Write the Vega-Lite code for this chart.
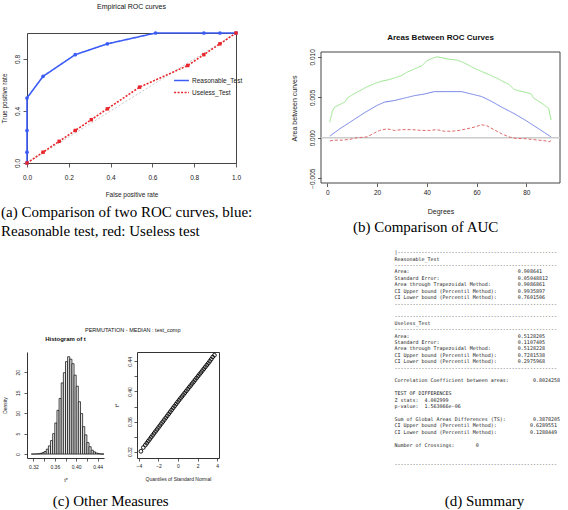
{
  "$schema": "https://vega.github.io/schema/vega-lite/v6.json",
  "padding": {"left": 1, "top": 2, "right": 0, "bottom": 0},
  "background": "white",
  "config": {
    "font": "Liberation Sans",
    "view": {"stroke": "#444", "strokeWidth": 1},
    "axis": {"grid": false, "domain": false, "labelFont": "Liberation Sans", "titleFont": "Liberation Sans", "titleFontWeight": "normal", "labelColor": "#222", "titleColor": "#222", "tickColor": "#333", "domainColor": "#333", "tickWidth": 0.8, "labelFlush": false, "labelOverlap": false},
    "title": {"font": "Liberation Sans", "color": "#111"}
  },
  "resolve": {"scale": {"color": "independent", "strokeDash": "independent", "shape": "independent"}, "legend": {"color": "independent", "strokeDash": "independent", "shape": "independent"}},
  "datasets": {
    "diag": [{"v": 0}, {"v": 1}],
    "roc": [
      {"test": "Reasonable_Test", "i": 0, "fpr": 0, "tpr": 0},
      {"test": "Reasonable_Test", "i": 1, "fpr": 0, "tpr": 0.0833},
      {"test": "Reasonable_Test", "i": 2, "fpr": 0, "tpr": 0.25},
      {"test": "Reasonable_Test", "i": 3, "fpr": 0, "tpr": 0.5},
      {"test": "Reasonable_Test", "i": 4, "fpr": 0.0769, "tpr": 0.6667},
      {"test": "Reasonable_Test", "i": 5, "fpr": 0.2308, "tpr": 0.8333},
      {"test": "Reasonable_Test", "i": 6, "fpr": 0.3846, "tpr": 0.9167},
      {"test": "Reasonable_Test", "i": 7, "fpr": 0.6154, "tpr": 1},
      {"test": "Reasonable_Test", "i": 8, "fpr": 0.8462, "tpr": 1},
      {"test": "Reasonable_Test", "i": 9, "fpr": 0.9231, "tpr": 1},
      {"test": "Reasonable_Test", "i": 10, "fpr": 1, "tpr": 1},
      {"test": "Useless_Test", "i": 0, "fpr": 0, "tpr": 0},
      {"test": "Useless_Test", "i": 1, "fpr": 0.0769, "tpr": 0.0833},
      {"test": "Useless_Test", "i": 2, "fpr": 0.1538, "tpr": 0.1667},
      {"test": "Useless_Test", "i": 3, "fpr": 0.2308, "tpr": 0.25},
      {"test": "Useless_Test", "i": 4, "fpr": 0.3077, "tpr": 0.3333},
      {"test": "Useless_Test", "i": 5, "fpr": 0.3846, "tpr": 0.4167},
      {"test": "Useless_Test", "i": 6, "fpr": 0.5385, "tpr": 0.5833},
      {"test": "Useless_Test", "i": 7, "fpr": 0.7692, "tpr": 0.75},
      {"test": "Useless_Test", "i": 8, "fpr": 0.8462, "tpr": 0.8333},
      {"test": "Useless_Test", "i": 9, "fpr": 0.9231, "tpr": 0.9167},
      {"test": "Useless_Test", "i": 10, "fpr": 1, "tpr": 1}
    ],
    "zero": [{"z": 0}],
    "abc": [
      {"series": "Upper", "deg": 1, "area": 0.0019}, {"series": "Upper", "deg": 2, "area": 0.0033}, {"series": "Upper", "deg": 3, "area": 0.0038}, {"series": "Upper", "deg": 5, "area": 0.0041}, {"series": "Upper", "deg": 7, "area": 0.0044}, {"series": "Upper", "deg": 8, "area": 0.0049}, {"series": "Upper", "deg": 10, "area": 0.0053}, {"series": "Upper", "deg": 13, "area": 0.0058}, {"series": "Upper", "deg": 16, "area": 0.0063}, {"series": "Upper", "deg": 19, "area": 0.0067}, {"series": "Upper", "deg": 22, "area": 0.007}, {"series": "Upper", "deg": 25, "area": 0.0072}, {"series": "Upper", "deg": 28, "area": 0.0075}, {"series": "Upper", "deg": 30, "area": 0.0077}, {"series": "Upper", "deg": 32, "area": 0.0081}, {"series": "Upper", "deg": 35, "area": 0.0085}, {"series": "Upper", "deg": 38, "area": 0.0089}, {"series": "Upper", "deg": 40, "area": 0.0095}, {"series": "Upper", "deg": 42, "area": 0.0098}, {"series": "Upper", "deg": 44, "area": 0.01}, {"series": "Upper", "deg": 46, "area": 0.0099}, {"series": "Upper", "deg": 49, "area": 0.0097}, {"series": "Upper", "deg": 52, "area": 0.0096}, {"series": "Upper", "deg": 54, "area": 0.0094}, {"series": "Upper", "deg": 56, "area": 0.0091}, {"series": "Upper", "deg": 59, "area": 0.0086}, {"series": "Upper", "deg": 62, "area": 0.0082}, {"series": "Upper", "deg": 65, "area": 0.0078}, {"series": "Upper", "deg": 68, "area": 0.0074}, {"series": "Upper", "deg": 71, "area": 0.0069}, {"series": "Upper", "deg": 73, "area": 0.0066}, {"series": "Upper", "deg": 75, "area": 0.006}, {"series": "Upper", "deg": 77, "area": 0.0058}, {"series": "Upper", "deg": 80, "area": 0.0056}, {"series": "Upper", "deg": 82, "area": 0.0054}, {"series": "Upper", "deg": 83, "area": 0.0049}, {"series": "Upper", "deg": 85, "area": 0.0045}, {"series": "Upper", "deg": 87, "area": 0.0041}, {"series": "Upper", "deg": 89, "area": 0.0036}, {"series": "Upper", "deg": 90, "area": 0.0022},
      {"series": "Difference", "deg": 1, "area": 0.0002}, {"series": "Difference", "deg": 5, "area": 0.0011}, {"series": "Difference", "deg": 10, "area": 0.0021}, {"series": "Difference", "deg": 15, "area": 0.0031}, {"series": "Difference", "deg": 20, "area": 0.004}, {"series": "Difference", "deg": 23, "area": 0.0044}, {"series": "Difference", "deg": 27, "area": 0.0046}, {"series": "Difference", "deg": 31, "area": 0.0049}, {"series": "Difference", "deg": 35, "area": 0.0052}, {"series": "Difference", "deg": 39, "area": 0.0054}, {"series": "Difference", "deg": 43, "area": 0.0057}, {"series": "Difference", "deg": 48, "area": 0.0057}, {"series": "Difference", "deg": 54, "area": 0.0057}, {"series": "Difference", "deg": 58, "area": 0.0054}, {"series": "Difference", "deg": 62, "area": 0.0051}, {"series": "Difference", "deg": 66, "area": 0.0045}, {"series": "Difference", "deg": 70, "area": 0.0038}, {"series": "Difference", "deg": 75, "area": 0.003}, {"series": "Difference", "deg": 80, "area": 0.0021}, {"series": "Difference", "deg": 85, "area": 0.0011}, {"series": "Difference", "deg": 90, "area": 0.0001},
      {"series": "Lower", "deg": 1, "area": -0.0004}, {"series": "Lower", "deg": 3, "area": -0.0003}, {"series": "Lower", "deg": 6, "area": -0.0003}, {"series": "Lower", "deg": 9, "area": -0.0002}, {"series": "Lower", "deg": 12, "area": 0}, {"series": "Lower", "deg": 16, "area": 0.0001}, {"series": "Lower", "deg": 19, "area": 0.0006}, {"series": "Lower", "deg": 21, "area": 0.0009}, {"series": "Lower", "deg": 24, "area": 0.0011}, {"series": "Lower", "deg": 27, "area": 0.0009}, {"series": "Lower", "deg": 30, "area": 0.001}, {"series": "Lower", "deg": 34, "area": 0.001}, {"series": "Lower", "deg": 38, "area": 0.0009}, {"series": "Lower", "deg": 41, "area": 0.0009}, {"series": "Lower", "deg": 44, "area": 0.001}, {"series": "Lower", "deg": 47, "area": 0.0008}, {"series": "Lower", "deg": 50, "area": 0.0008}, {"series": "Lower", "deg": 53, "area": 0.0009}, {"series": "Lower", "deg": 56, "area": 0.0011}, {"series": "Lower", "deg": 59, "area": 0.0013}, {"series": "Lower", "deg": 62, "area": 0.0016}, {"series": "Lower", "deg": 64, "area": 0.0015}, {"series": "Lower", "deg": 67, "area": 0.001}, {"series": "Lower", "deg": 70, "area": 0.0005}, {"series": "Lower", "deg": 73, "area": 0.0001}, {"series": "Lower", "deg": 76, "area": -0.0001}, {"series": "Lower", "deg": 79, "area": -0.0001}, {"series": "Lower", "deg": 82, "area": -0.0002}, {"series": "Lower", "deg": 85, "area": -0.0003}, {"series": "Lower", "deg": 88, "area": -0.0004}, {"series": "Lower", "deg": 89.5, "area": -0.0005}, {"series": "Lower", "deg": 90, "area": -0.0002}
    ],
    "hist": [
      {"lo": 0.316, "hi": 0.32, "d": 0.01}, {"lo": 0.32, "hi": 0.324, "d": 0.02}, {"lo": 0.324, "hi": 0.328, "d": 0.04}, {"lo": 0.328, "hi": 0.332, "d": 0.08}, {"lo": 0.332, "hi": 0.336, "d": 0.18}, {"lo": 0.336, "hi": 0.34, "d": 0.35}, {"lo": 0.34, "hi": 0.344, "d": 0.62}, {"lo": 0.344, "hi": 0.348, "d": 1.2}, {"lo": 0.348, "hi": 0.352, "d": 2.0}, {"lo": 0.352, "hi": 0.356, "d": 3.3}, {"lo": 0.356, "hi": 0.36, "d": 5.0}, {"lo": 0.36, "hi": 0.364, "d": 7.6}, {"lo": 0.364, "hi": 0.368, "d": 10.7}, {"lo": 0.368, "hi": 0.372, "d": 13.6}, {"lo": 0.372, "hi": 0.376, "d": 17.4}, {"lo": 0.376, "hi": 0.38, "d": 19.9}, {"lo": 0.38, "hi": 0.384, "d": 22.6}, {"lo": 0.384, "hi": 0.388, "d": 23.8}, {"lo": 0.388, "hi": 0.392, "d": 23.2}, {"lo": 0.392, "hi": 0.396, "d": 22.1}, {"lo": 0.396, "hi": 0.4, "d": 19.3}, {"lo": 0.4, "hi": 0.404, "d": 16.6}, {"lo": 0.404, "hi": 0.408, "d": 12.8}, {"lo": 0.408, "hi": 0.412, "d": 9.9}, {"lo": 0.412, "hi": 0.416, "d": 6.7}, {"lo": 0.416, "hi": 0.42, "d": 4.7}, {"lo": 0.42, "hi": 0.424, "d": 2.8}, {"lo": 0.424, "hi": 0.428, "d": 1.8}, {"lo": 0.428, "hi": 0.432, "d": 0.95}, {"lo": 0.432, "hi": 0.436, "d": 0.55}, {"lo": 0.436, "hi": 0.44, "d": 0.27}, {"lo": 0.44, "hi": 0.444, "d": 0.12}, {"lo": 0.444, "hi": 0.448, "d": 0.05}, {"lo": 0.448, "hi": 0.452, "d": 0.02}
    ],
    "qq": [
      {"q": -3.8, "t": 0.3205}, {"q": -3.55, "t": 0.3255}, {"q": -3.35, "t": 0.3287}, {"q": -3.2, "t": 0.3313}, {"q": -3.05, "t": 0.3339}, {"q": -2.9, "t": 0.3365}, {"q": -2.75, "t": 0.3391}, {"q": -2.6, "t": 0.3417}, {"q": -2.45, "t": 0.3443}, {"q": -2.3, "t": 0.3469}, {"q": -2.15, "t": 0.3495}, {"q": -2.0, "t": 0.3521}, {"q": -1.85, "t": 0.3547}, {"q": -1.7, "t": 0.3573}, {"q": -1.55, "t": 0.3599}, {"q": -1.4, "t": 0.3625}, {"q": -1.25, "t": 0.3651}, {"q": -1.1, "t": 0.3677}, {"q": -0.95, "t": 0.3703}, {"q": -0.8, "t": 0.3729}, {"q": -0.65, "t": 0.3755}, {"q": -0.5, "t": 0.3781}, {"q": -0.35, "t": 0.3806}, {"q": -0.2, "t": 0.3832}, {"q": -0.05, "t": 0.3858}, {"q": 0.1, "t": 0.3883}, {"q": 0.25, "t": 0.3908}, {"q": 0.4, "t": 0.3933}, {"q": 0.55, "t": 0.3957}, {"q": 0.7, "t": 0.3982}, {"q": 0.85, "t": 0.4006}, {"q": 1.0, "t": 0.4031}, {"q": 1.15, "t": 0.4056}, {"q": 1.3, "t": 0.408}, {"q": 1.45, "t": 0.4105}, {"q": 1.6, "t": 0.4129}, {"q": 1.75, "t": 0.4154}, {"q": 1.9, "t": 0.4179}, {"q": 2.05, "t": 0.4203}, {"q": 2.2, "t": 0.4228}, {"q": 2.35, "t": 0.4252}, {"q": 2.5, "t": 0.4277}, {"q": 2.65, "t": 0.4302}, {"q": 2.8, "t": 0.4326}, {"q": 2.95, "t": 0.4351}, {"q": 3.1, "t": 0.4375}, {"q": 3.25, "t": 0.4402}, {"q": 3.4, "t": 0.4428}, {"q": 3.55, "t": 0.4458}, {"q": 3.73, "t": 0.4482}
    ],
    "summary": [
      {"line": 0, "text": "|-----------------------------------------------------\u00a0\u200b"},
      {"line": 1, "text": "Reasonable_Test\u00a0\u00a0\u00a0\u00a0\u00a0\u00a0\u00a0\u00a0\u00a0\u00a0\u00a0\u00a0\u00a0\u00a0\u00a0\u00a0\u00a0\u00a0\u00a0\u00a0\u00a0\u00a0\u00a0\u00a0\u00a0\u00a0\u00a0\u00a0\u00a0\u00a0\u00a0\u00a0\u00a0\u00a0\u00a0\u00a0\u00a0\u00a0\u00a0\u00a0\u200b"},
      {"line": 2, "text": "------------------------------------------------------\u00a0\u200b"},
      {"line": 3, "text": "Area:\u00a0\u00a0\u00a0\u00a0\u00a0\u00a0\u00a0\u00a0\u00a0\u00a0\u00a0\u00a0\u00a0\u00a0\u00a0\u00a0\u00a0\u00a0\u00a0\u00a0\u00a0\u00a0\u00a0\u00a0\u00a0\u00a0\u00a0\u00a0\u00a0\u00a0\u00a0\u00a0\u00a0\u00a0\u00a0\u00a00.908641\u00a0\u00a0\u00a0\u00a0\u00a0\u00a0\u200b"},
      {"line": 4, "text": "Standard Error:\u00a0\u00a0\u00a0\u00a0\u00a0\u00a0\u00a0\u00a0\u00a0\u00a0\u00a0\u00a0\u00a0\u00a0\u00a0\u00a0\u00a0\u00a0\u00a0\u00a0\u00a0\u00a0\u00a0\u00a0\u00a0\u00a00.05048812\u00a0\u00a0\u00a0\u00a0\u200b"},
      {"line": 5, "text": "Area through Trapezoidal Method:\u00a0\u00a0\u00a0\u00a0\u00a0\u00a0\u00a0\u00a0\u00a00.9086861\u00a0\u00a0\u00a0\u00a0\u00a0\u200b"},
      {"line": 6, "text": "CI Upper bound (Percentil Method):\u00a0\u00a0\u00a0\u00a0\u00a0\u00a0\u00a00.9935897\u00a0\u00a0\u00a0\u00a0\u00a0\u200b"},
      {"line": 7, "text": "CI Lower bound (Percentil Method):\u00a0\u00a0\u00a0\u00a0\u00a0\u00a0\u00a00.7601506\u00a0\u00a0\u00a0\u00a0\u00a0\u200b"},
      {"line": 8, "text": "------------------------------------------------------\u00a0\u200b"},
      {"line": 10, "text": "------------------------------------------------------\u00a0\u200b"},
      {"line": 11, "text": "Useless_Test\u00a0\u00a0\u00a0\u00a0\u00a0\u00a0\u00a0\u00a0\u00a0\u00a0\u00a0\u00a0\u00a0\u00a0\u00a0\u00a0\u00a0\u00a0\u00a0\u00a0\u00a0\u00a0\u00a0\u00a0\u00a0\u00a0\u00a0\u00a0\u00a0\u00a0\u00a0\u00a0\u00a0\u00a0\u00a0\u00a0\u00a0\u00a0\u00a0\u00a0\u00a0\u00a0\u00a0\u200b"},
      {"line": 12, "text": "------------------------------------------------------\u00a0\u200b"},
      {"line": 13, "text": "Area:\u00a0\u00a0\u00a0\u00a0\u00a0\u00a0\u00a0\u00a0\u00a0\u00a0\u00a0\u00a0\u00a0\u00a0\u00a0\u00a0\u00a0\u00a0\u00a0\u00a0\u00a0\u00a0\u00a0\u00a0\u00a0\u00a0\u00a0\u00a0\u00a0\u00a0\u00a0\u00a0\u00a0\u00a0\u00a0\u00a00.5128205\u00a0\u00a0\u00a0\u00a0\u00a0\u200b"},
      {"line": 14, "text": "Standard Error:\u00a0\u00a0\u00a0\u00a0\u00a0\u00a0\u00a0\u00a0\u00a0\u00a0\u00a0\u00a0\u00a0\u00a0\u00a0\u00a0\u00a0\u00a0\u00a0\u00a0\u00a0\u00a0\u00a0\u00a0\u00a0\u00a00.1107405\u00a0\u00a0\u00a0\u00a0\u00a0\u200b"},
      {"line": 15, "text": "Area through Trapezoidal Method:\u00a0\u00a0\u00a0\u00a0\u00a0\u00a0\u00a0\u00a0\u00a00.5128228\u00a0\u00a0\u00a0\u00a0\u00a0\u200b"},
      {"line": 16, "text": "CI Upper bound (Percentil Method):\u00a0\u00a0\u00a0\u00a0\u00a0\u00a0\u00a00.7281538\u00a0\u00a0\u00a0\u00a0\u00a0\u200b"},
      {"line": 17, "text": "CI Lower bound (Percentil Method):\u00a0\u00a0\u00a0\u00a0\u00a0\u00a0\u00a00.2975968\u00a0\u00a0\u00a0\u00a0\u00a0\u200b"},
      {"line": 18, "text": "------------------------------------------------------\u00a0\u200b"},
      {"line": 20, "text": "Correlation Coefficient between areas:\u00a0\u00a0\u00a0\u00a0\u00a0\u00a0\u00a0\u00a00.8024258"},
      {"line": 22, "text": "TEST OF DIFFERENCES\u00a0\u00a0\u00a0\u00a0\u00a0\u00a0\u00a0\u00a0\u00a0\u00a0\u00a0\u00a0\u00a0\u00a0\u00a0\u00a0\u00a0\u00a0\u00a0\u00a0\u00a0\u00a0\u00a0\u00a0\u00a0\u00a0\u00a0\u00a0\u00a0\u00a0\u00a0\u00a0\u00a0\u00a0\u00a0\u00a0\u200b"},
      {"line": 23, "text": "Z stats:\u00a0\u00a04.002999\u00a0\u00a0\u00a0\u00a0\u00a0\u00a0\u00a0\u00a0\u00a0\u00a0\u00a0\u00a0\u00a0\u00a0\u00a0\u00a0\u00a0\u00a0\u00a0\u00a0\u00a0\u00a0\u00a0\u00a0\u00a0\u00a0\u00a0\u00a0\u00a0\u00a0\u00a0\u00a0\u00a0\u00a0\u00a0\u00a0\u00a0\u200b"},
      {"line": 24, "text": "p-value:\u00a0\u00a01.563066e-06\u00a0\u00a0\u00a0\u00a0\u00a0\u00a0\u00a0\u00a0\u00a0\u00a0\u00a0\u00a0\u00a0\u00a0\u00a0\u00a0\u00a0\u00a0\u00a0\u00a0\u00a0\u00a0\u00a0\u00a0\u00a0\u00a0\u00a0\u00a0\u00a0\u00a0\u00a0\u00a0\u00a0\u200b"},
      {"line": 26, "text": "Sum of Global Areas Differences (TS):\u00a0\u00a0\u00a0\u00a0\u00a0\u00a0\u00a0\u00a0\u00a00.3878205"},
      {"line": 27, "text": "CI Upper bound (Percentil Method):\u00a0\u00a0\u00a0\u00a0\u00a0\u00a0\u00a0\u00a0\u00a0\u00a0\u00a00.6289551\u00a0\u200b"},
      {"line": 28, "text": "CI Lower bound (Percentil Method):\u00a0\u00a0\u00a0\u00a0\u00a0\u00a0\u00a0\u00a0\u00a0\u00a0\u00a00.1288449\u00a0\u200b"},
      {"line": 30, "text": "Number of Crossings:\u00a0\u00a0\u00a0\u00a0\u00a0\u00a0\u00a00\u00a0\u00a0\u00a0\u00a0\u00a0\u00a0\u00a0\u00a0\u00a0\u00a0\u00a0\u00a0\u00a0\u00a0\u00a0\u00a0\u00a0\u00a0\u00a0\u00a0\u00a0\u00a0\u00a0\u00a0\u00a0\u00a0\u00a0\u200b"},
      {"line": 33, "text": "------------------------------------------------------\u00a0\u200b"}
    ]
  },
  "columns": 2,
  "align": "none",
  "spacing": 37,
  "concat": [
    {
      "spacing": 89,
      "vconcat": [
        {
          "title": {"text": ["(a) Comparison of two ROC curves, blue:", "Reasonable test, red: Useless test"], "orient": "bottom", "anchor": "start", "font": "Liberation Serif", "fontSize": 15, "fontWeight": "normal", "color": "#000", "lineHeight": 19, "offset": 6},
          "vconcat": [
            {
              "title": {"text": "Empirical ROC curves", "fontSize": 7, "fontWeight": "normal", "offset": 20, "anchor": "middle"},
              "width": 209,
              "height": 130,
              "layer": [
                {
                  "data": {"name": "diag"},
                  "mark": {"type": "line", "color": "#c8c8c8", "strokeDash": [2, 2], "strokeWidth": 1},
                  "encoding": {
                    "x": {"field": "v", "type": "quantitative", "title": "False positive rate", "scale": {"domain": [0, 1], "nice": false}, "axis": {"values": [0, 0.2, 0.4, 0.6, 0.8, 1], "format": ".1f", "labelOverlap": false, "tickSize": 4, "labelPadding": 7, "labelFontSize": 6.5, "titleFontSize": 6.5, "titlePadding": 11}},
                    "y": {"field": "v", "type": "quantitative", "title": "True positive rate", "scale": {"domain": [0, 1], "nice": false}, "axis": {"values": [0, 0.2, 0.4, 0.6, 0.8, 1], "format": ".1f", "labelOverlap": false, "tickSize": 4, "labelPadding": 2.5, "labelFontSize": 6.5, "labelAngle": 270, "labelAlign": "center", "labelBaseline": "bottom", "titleFontSize": 6.5, "titlePadding": 7}}
                  }
                },
                {
                  "data": {"name": "roc"},
                  "mark": {"type": "line", "strokeWidth": 1.6},
                  "encoding": {
                    "x": {"field": "fpr", "type": "quantitative", "title": "False positive rate"},
                    "y": {"field": "tpr", "type": "quantitative", "title": "True positive rate"},
                    "order": {"field": "i"},
                    "color": {"field": "test", "type": "nominal", "scale": {"domain": ["Reasonable_Test", "Useless_Test"], "range": ["#3b5cf5", "#e8262b"]}, "legend": {"orient": "none", "legendX": 146, "legendY": 39, "title": null, "symbolType": "stroke", "symbolSize": 220, "symbolStrokeWidth": 1.6, "labelFontSize": 6.5, "labelFont": "Liberation Sans", "labelColor": "#222", "rowPadding": -8, "labelOffset": 2}},
                    "strokeDash": {"field": "test", "type": "nominal", "scale": {"domain": ["Reasonable_Test", "Useless_Test"], "range": [[1, 0], [2, 1.5]]}, "legend": {"orient": "none", "legendX": 146, "legendY": 39, "title": null, "symbolType": "stroke", "symbolSize": 220, "symbolStrokeWidth": 1.6, "labelFontSize": 6.5, "labelFont": "Liberation Sans", "labelColor": "#222", "rowPadding": -8, "labelOffset": 2}}
                  }
                },
                {
                  "data": {"name": "roc"},
                  "transform": [{"filter": "datum.test === 'Reasonable_Test'"}],
                  "mark": {"type": "point", "filled": true, "shape": "circle", "size": 14, "color": "#3b5cf5", "opacity": 1},
                  "encoding": {
                    "x": {"field": "fpr", "type": "quantitative", "title": "False positive rate"},
                    "y": {"field": "tpr", "type": "quantitative", "title": "True positive rate"}
                  }
                },
                {
                  "data": {"name": "roc"},
                  "transform": [{"filter": "datum.test === 'Useless_Test'"}],
                  "mark": {"type": "point", "filled": true, "shape": "square", "size": 12, "color": "#e8262b", "opacity": 1},
                  "encoding": {
                    "x": {"field": "fpr", "type": "quantitative", "title": "False positive rate"},
                    "y": {"field": "tpr", "type": "quantitative", "title": "True positive rate"}
                  }
                }
              ]
            }
          ]
        },
        {
          "title": {"text": "(c) Other Measures", "orient": "bottom", "anchor": "middle", "font": "Liberation Serif", "fontSize": 15, "fontWeight": "normal", "color": "#000", "offset": 11},
          "vconcat": [
            {
              "title": {"text": "PERMUTATION - MEDIAN : test_comp", "fontSize": 5.5, "fontWeight": "normal", "offset": 2.5, "anchor": "middle", "dx": 22},
              "spacing": 8,
              "hconcat": [
                {
                  "title": {"text": "Histogram of t", "fontSize": 6, "fontWeight": "bold", "offset": 10, "anchor": "middle"},
                  "width": 77,
                  "height": 106,
                  "view": {"stroke": null},
                  "data": {"name": "hist"},
                  "mark": {"type": "bar", "fill": "#e6e6e6", "stroke": "#111", "strokeWidth": 0.75},
                  "encoding": {
                    "x": {"field": "lo", "type": "quantitative", "title": "t*", "scale": {"domain": [0.308, 0.452], "nice": false, "zero": false}, "axis": {"values": [0.32, 0.34, 0.36, 0.38, 0.4, 0.42, 0.44], "format": ".2f", "labelOverlap": false, "labelExpr": "indexof(['0.32','0.36','0.40','0.44'], datum.label) >= 0 ? datum.label : ''", "tickSize": 3, "labelPadding": 3.5, "labelFontSize": 5, "titleFontSize": 5.5, "titlePadding": 8, "domain": true}},
                    "x2": {"field": "hi"},
                    "y": {"field": "d", "type": "quantitative", "title": "Density", "scale": {"domain": [-0.96, 24.96], "nice": false, "zero": false}, "axis": {"values": [0, 5, 10, 15, 20], "labelOverlap": false, "tickSize": 3, "labelPadding": 4, "labelFontSize": 5, "labelAngle": 270, "labelAlign": "center", "labelBaseline": "bottom", "titleFontSize": 5, "titlePadding": 8, "domain": true}},
                    "y2": {"datum": 0}
                  }
                },
                {
                  "width": 82,
                  "height": 106,
                  "view": {"stroke": "#333"},
                  "data": {"name": "qq"},
                  "mark": {"type": "point", "shape": "circle", "filled": false, "size": 14, "strokeWidth": 0.9, "color": "#000", "opacity": 1},
                  "encoding": {
                    "x": {"field": "q", "type": "quantitative", "title": "Quantiles of Standard Normal", "scale": {"domain": [-4.2, 4.2], "nice": false, "zero": false}, "axis": {"values": [-4, -2, 0, 2, 4], "labelOverlap": false, "tickSize": 3, "labelPadding": 2, "labelFontSize": 5, "titleFontSize": 5, "titlePadding": 8}},
                    "y": {"field": "t", "type": "quantitative", "title": "t*", "scale": {"domain": [0.3116, 0.4525], "nice": false, "zero": false}, "axis": {"values": [0.32, 0.34, 0.36, 0.38, 0.4, 0.42, 0.44], "format": ".2f", "labelOverlap": false, "labelExpr": "indexof(['0.32','0.36','0.40','0.44'], datum.label) >= 0 ? datum.label : ''", "tickSize": 3, "labelPadding": 2, "labelFontSize": 5, "labelAngle": 270, "labelAlign": "center", "labelBaseline": "bottom", "titleFontSize": 5.5, "titlePadding": 8}}
                  }
                }
              ]
            }
          ]
        }
      ]
    },
    {
      "spacing": 14,
      "vconcat": [
        {
          "title": {"text": "(b) Comparison of AUC", "orient": "bottom", "anchor": "middle", "font": "Liberation Serif", "fontSize": 15, "fontWeight": "normal", "color": "#000", "offset": 6},
          "vconcat": [
            {
              "title": {"text": "Areas Between ROC Curves", "fontSize": 8, "fontWeight": "bold", "offset": -8.5, "anchor": "middle"},
              "width": 239,
              "height": 150,
              "view": {"stroke": null},
              "layer": [
                {
                  "data": {"name": "zero"},
                  "mark": {"type": "rect", "fill": null, "stroke": "#444", "strokeWidth": 1},
                  "encoding": {
                    "x": {"datum": -2.56, "type": "quantitative"},
                    "x2": {"datum": 93.56},
                    "y": {"datum": -0.0056, "type": "quantitative"},
                    "y2": {"datum": 0.0106}
                  }
                },
                {
                  "data": {"name": "zero"},
                  "mark": {"type": "rule", "color": "#cccccc", "strokeWidth": 1.5},
                  "encoding": {
                    "y": {"field": "z", "type": "quantitative", "title": "Area between curves", "scale": {"domain": [-0.0056, 0.01295], "nice": false, "zero": false}, "axis": {"values": [-0.005, 0, 0.005, 0.01], "format": ".3f", "labelOverlap": false, "tickSize": 3.5, "labelPadding": 2, "labelFontSize": 6.5, "labelAngle": 270, "labelAlign": "center", "labelBaseline": "bottom", "titleFontSize": 7, "titlePadding": 12}}
                  }
                },
                {
                  "data": {"name": "abc"},
                  "mark": {"type": "line", "strokeWidth": 1},
                  "encoding": {
                    "x": {"field": "deg", "type": "quantitative", "title": "Degrees", "scale": {"domain": [-2.56, 93.56], "nice": false, "zero": false}, "axis": {"values": [0, 20, 40, 60, 80], "labelOverlap": false, "tickSize": 3.5, "labelPadding": 3, "labelFontSize": 6.5, "titleFontSize": 7, "titlePadding": 11}},
                    "y": {"field": "area", "type": "quantitative", "title": "Area between curves"},
                    "color": {"field": "series", "type": "nominal", "scale": {"domain": ["Upper", "Difference", "Lower"], "range": ["#9be68e", "#7282e6", "#e06666"]}, "legend": null},
                    "strokeDash": {"field": "series", "type": "nominal", "scale": {"domain": ["Upper", "Difference", "Lower"], "range": [[1, 0], [1, 0], [3, 2]]}, "legend": null}
                  }
                }
              ]
            }
          ]
        },
        {
          "title": {"text": "(d) Summary", "orient": "bottom", "anchor": "middle", "font": "Liberation Serif", "fontSize": 15, "fontWeight": "normal", "color": "#000", "offset": 27, "dx": 44},
          "width": 239,
          "height": 218,
          "view": {"stroke": null},
          "data": {"name": "summary"},
          "mark": {"type": "text", "font": "DejaVu Sans Mono", "fontSize": 5, "align": "right", "baseline": "middle", "color": "#222"},
          "encoding": {
            "x": {"value": "width"},
            "y": {"field": "line", "type": "quantitative", "scale": {"domain": [-0.5, 33.5], "reverse": true, "nice": false, "zero": false}, "axis": null},
            "text": {"field": "text"}
          }
        }
      ]
    }
  ]
}
